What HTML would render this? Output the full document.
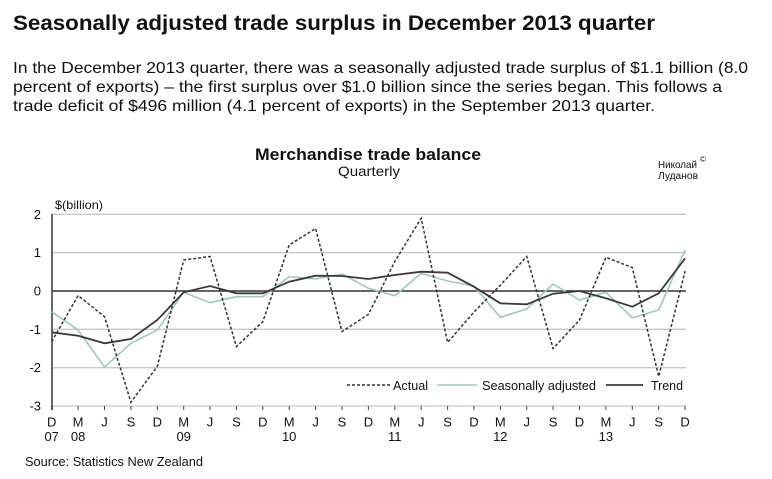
<!DOCTYPE html>
<html><head><meta charset="utf-8"><style>
html,body{margin:0;padding:0;background:#fff;}
svg{display:block;}
text{font-family:"Liberation Sans",Arial,sans-serif;fill:#111;}
</style></head><body>
<svg width="772" height="479" viewBox="0 0 772 479" xmlns="http://www.w3.org/2000/svg">
<rect width="772" height="479" fill="#fff"/>
<text x="13" y="30" font-size="21" font-weight="bold" textLength="642" lengthAdjust="spacingAndGlyphs">Seasonally adjusted trade surplus in December 2013 quarter</text>
<text x="13" y="73" font-size="16" textLength="735" lengthAdjust="spacingAndGlyphs">In the December 2013 quarter, there was a seasonally adjusted trade surplus of $1.1 billion (8.0</text>
<text x="13" y="92" font-size="16" textLength="709" lengthAdjust="spacingAndGlyphs">percent of exports) – the first surplus over $1.0 billion since the series began. This follows a</text>
<text x="13" y="111" font-size="16" textLength="642" lengthAdjust="spacingAndGlyphs">trade deficit of $496 million (4.1 percent of exports) in the September 2013 quarter.</text>

<text x="255" y="160" font-size="16.5" font-weight="bold" textLength="226" lengthAdjust="spacingAndGlyphs">Merchandise trade balance</text>
<text x="338" y="176" font-size="14" textLength="62" lengthAdjust="spacingAndGlyphs">Quarterly</text>
<text x="658" y="168" font-size="10.5" fill="#333" textLength="39" lengthAdjust="spacingAndGlyphs">Николай</text>
<text x="700" y="162" font-size="8" fill="#333">©</text>
<text x="658" y="179" font-size="10.5" fill="#333" textLength="40" lengthAdjust="spacingAndGlyphs">Луданов</text>

<text x="55" y="209" font-size="12" textLength="48" lengthAdjust="spacingAndGlyphs">$(billion)</text>

<g stroke="#c8c8c8" stroke-width="1.3">
<line x1="52" y1="214.3" x2="686" y2="214.3"/>
<line x1="52" y1="252.7" x2="686" y2="252.7"/>
<line x1="52" y1="329.3" x2="686" y2="329.3"/>
<line x1="52" y1="367.7" x2="686" y2="367.7"/>
<line x1="52" y1="406" x2="686" y2="406"/>
</g>
<g stroke="#444" stroke-width="1">
<line x1="51.7" y1="406" x2="51.7" y2="410"/>
<line x1="78.1" y1="406" x2="78.1" y2="410"/>
<line x1="104.5" y1="406" x2="104.5" y2="410"/>
<line x1="130.9" y1="406" x2="130.9" y2="410"/>
<line x1="157.3" y1="406" x2="157.3" y2="410"/>
<line x1="183.7" y1="406" x2="183.7" y2="410"/>
<line x1="210" y1="406" x2="210" y2="410"/>
<line x1="236.4" y1="406" x2="236.4" y2="410"/>
<line x1="262.8" y1="406" x2="262.8" y2="410"/>
<line x1="289.2" y1="406" x2="289.2" y2="410"/>
<line x1="315.6" y1="406" x2="315.6" y2="410"/>
<line x1="342" y1="406" x2="342" y2="410"/>
<line x1="368.4" y1="406" x2="368.4" y2="410"/>
<line x1="394.8" y1="406" x2="394.8" y2="410"/>
<line x1="421.2" y1="406" x2="421.2" y2="410"/>
<line x1="447.6" y1="406" x2="447.6" y2="410"/>
<line x1="473.9" y1="406" x2="473.9" y2="410"/>
<line x1="500.3" y1="406" x2="500.3" y2="410"/>
<line x1="526.7" y1="406" x2="526.7" y2="410"/>
<line x1="553.1" y1="406" x2="553.1" y2="410"/>
<line x1="579.5" y1="406" x2="579.5" y2="410"/>
<line x1="605.9" y1="406" x2="605.9" y2="410"/>
<line x1="632.3" y1="406" x2="632.3" y2="410"/>
<line x1="658.7" y1="406" x2="658.7" y2="410"/>
<line x1="685.1" y1="406" x2="685.1" y2="410"/>
</g>
<line x1="52" y1="291" x2="686" y2="291" stroke="#333" stroke-width="1.5"/>
<line x1="52" y1="214" x2="52" y2="410" stroke="#333" stroke-width="1.5"/>

<g font-size="13" text-anchor="end">
<text x="41" y="219">2</text>
<text x="41" y="257">1</text>
<text x="41" y="295.5">0</text>
<text x="41" y="334">-1</text>
<text x="41" y="372">-2</text>
<text x="41" y="410.5">-3</text>
</g>
<g font-size="13" text-anchor="middle">
<text x="51.7" y="426.5">D</text>
<text x="78.1" y="426.5">M</text>
<text x="104.5" y="426.5">J</text>
<text x="130.9" y="426.5">S</text>
<text x="157.3" y="426.5">D</text>
<text x="183.7" y="426.5">M</text>
<text x="210" y="426.5">J</text>
<text x="236.4" y="426.5">S</text>
<text x="262.8" y="426.5">D</text>
<text x="289.2" y="426.5">M</text>
<text x="315.6" y="426.5">J</text>
<text x="342" y="426.5">S</text>
<text x="368.4" y="426.5">D</text>
<text x="394.8" y="426.5">M</text>
<text x="421.2" y="426.5">J</text>
<text x="447.6" y="426.5">S</text>
<text x="473.9" y="426.5">D</text>
<text x="500.3" y="426.5">M</text>
<text x="526.7" y="426.5">J</text>
<text x="553.1" y="426.5">S</text>
<text x="579.5" y="426.5">D</text>
<text x="605.9" y="426.5">M</text>
<text x="632.3" y="426.5">J</text>
<text x="658.7" y="426.5">S</text>
<text x="685.1" y="426.5">D</text>
<text x="51.7" y="441">07</text>
<text x="78.1" y="441">08</text>
<text x="183.7" y="441">09</text>
<text x="289.2" y="441">10</text>
<text x="394.8" y="441">11</text>
<text x="500.3" y="441">12</text>
<text x="605.9" y="441">13</text>
</g>

<polyline fill="none" stroke="#9cc8c8" stroke-width="1.6" points="51.7,311.7 78.1,330 104.5,367 130.9,343.3 157.3,330 183.7,292.3 210,302.7 236.4,296.7 262.8,296.7 289.2,276.7 315.6,279 342,274 368.4,288.3 394.8,295.7 421.2,273.3 447.6,281 473.9,286 500.3,317.3 526.7,309 553.1,284 579.5,300 605.9,292.3 632.3,317.7 658.7,310 685.1,250"/>
<polyline fill="none" stroke="#3a3a3a" stroke-width="1.8" points="51.7,332.3 78.1,335.7 104.5,343.3 130.9,339 157.3,320 183.7,292.3 210,286 236.4,293.3 262.8,293.3 289.2,281.7 315.6,275.7 342,276 368.4,279 394.8,275 421.2,271.7 447.6,272.7 473.9,286.7 500.3,303.3 526.7,304.3 553.1,293.7 579.5,291 605.9,298.3 632.3,306.7 658.7,293.3 685.1,258.3"/>
<polyline fill="none" stroke="#333" stroke-width="1.5" stroke-dasharray="3,2" points="51.7,341.6 78.1,295.6 104.5,316.7 130.9,402.2 157.3,366.5 183.7,260 210,256.5 236.4,346.6 262.8,321.7 289.2,245 315.6,228.5 342,331.6 368.4,314.4 394.8,261.5 421.2,218.2 447.6,342.4 473.9,312.1 500.3,285.3 526.7,256.5 553.1,348.5 579.5,320.1 605.9,257.3 632.3,267.6 658.7,376.5 685.1,271.1"/>

<line x1="347" y1="385" x2="390" y2="385" stroke="#333" stroke-width="1.5" stroke-dasharray="3,2"/>
<text x="393" y="390" font-size="12.5" textLength="35" lengthAdjust="spacingAndGlyphs">Actual</text>
<line x1="437" y1="385" x2="477" y2="385" stroke="#9cc8c8" stroke-width="1.6"/>
<text x="482" y="390" font-size="12.5" textLength="114" lengthAdjust="spacingAndGlyphs">Seasonally adjusted</text>
<line x1="606" y1="385" x2="643" y2="385" stroke="#3a3a3a" stroke-width="1.8"/>
<text x="651" y="390" font-size="12.5" textLength="32" lengthAdjust="spacingAndGlyphs">Trend</text>

<text x="25" y="466" font-size="13" textLength="178" lengthAdjust="spacingAndGlyphs">Source: Statistics New Zealand</text>
</svg>
</body></html>
